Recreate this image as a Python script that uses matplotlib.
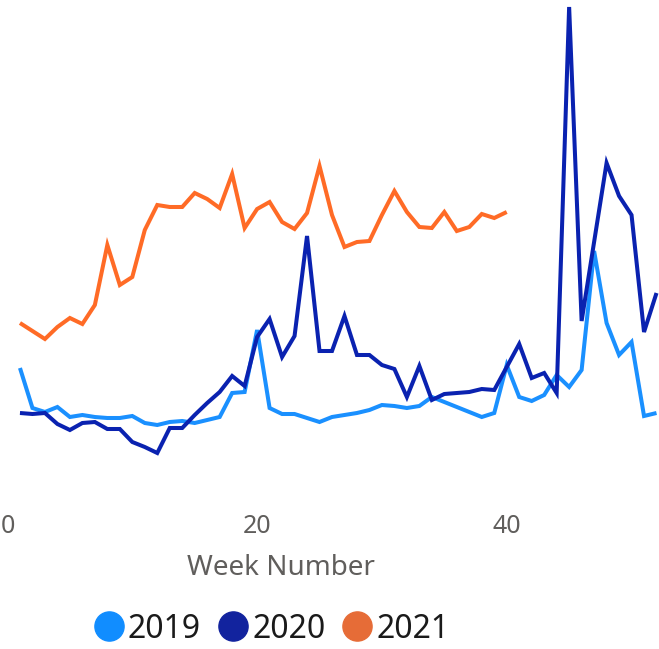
import matplotlib
matplotlib.use("Agg")
import matplotlib.pyplot as plt
from matplotlib.lines import Line2D

plt.rcParams["font.family"] = ["Noto Sans", "DejaVu Sans"]

# Weekly values per year
weeks_2019 = list(range(1, 53))
values_2019 = [92, 52, 48, 53, 43, 45, 43, 42, 42, 44,
               37, 35, 38, 39, 37, 40, 43, 67, 68, 130,
               52, 46, 46, 42, 38, 43, 45, 47, 50, 55,
               54, 52, 54, 63, 58, 53, 48, 43, 47, 95,
               63, 59, 65, 85, 73, 90, 209, 137, 105, 118,
               44, 47]

weeks_2020 = list(range(1, 53))
values_2020 = [47, 46, 47, 36, 30, 37, 38, 31, 31, 18,
               13, 7, 32, 32, 45, 57, 68, 84, 74, 123,
               141, 103, 124, 224, 109, 109, 144, 105, 105, 95,
               91, 63, 94, 60, 66, 67, 68, 71, 70, 93,
               116, 82, 87, 67, 453, 139, 218, 297, 264, 245,
               128, 167]

weeks_2021 = list(range(1, 41))
values_2021 = [137, 129, 121, 133, 142, 136, 155, 215, 175, 183,
               230, 255, 253, 253, 267, 261, 252, 286, 232, 251,
               258, 238, 231, 247, 294, 245, 213, 218, 219, 245,
               269, 248, 233, 232, 248, 229, 233, 246, 242, 248]

years = ["2019", "2020", "2021"]
line_colors = ["#1A90FF", "#0A22B0", "#FF6B26"]
legend_colors = ["#118DFF", "#12239E", "#E66C37"]
x_ticks = [0, 20, 40]
x_label = "Week Number"

W, H = 659, 649
fig = plt.figure(figsize=(W / 100, H / 100), dpi=100)
ax_bottom_px = 495
ax = fig.add_axes([0, 1 - ax_bottom_px / H, 1, ax_bottom_px / H])

series = [(weeks_2019, values_2019), (weeks_2020, values_2020), (weeks_2021, values_2021)]
for (wk, vals), col in zip(series, line_colors):
    ax.plot(wk, vals, color=col, linewidth=2.9, solid_joinstyle="miter",
            solid_capstyle="butt")

ax.set_xlim(-0.6, 52.2)
ax.set_ylim(460 - ax_bottom_px, 460)
for s in ax.spines.values():
    s.set_visible(False)
ax.set_yticks([])
ax.set_xticks(x_ticks)
ax.set_xticklabels([str(t) for t in x_ticks])
ax.tick_params(axis="x", length=0, pad=14, labelsize=18, labelcolor="#605E5C")
for lbl in ax.get_xticklabels():
    lbl.set_fontweight("light")

fig.text(281 / W, 1 - 568 / H, x_label, ha="center", va="center",
         fontsize=20, color="#605E5C", fontweight="light")

handles = [Line2D([], [], marker="o", linestyle="none", markersize=21,
                  markerfacecolor=c, markeredgecolor=c) for c in legend_colors]
fig.legend(handles, years, loc="center", bbox_to_anchor=(272 / W, 1 - 629 / H),
           ncol=3, frameon=False, fontsize=23, handlelength=0.9,
           handletextpad=0.15, columnspacing=0.55, borderpad=0,
           labelcolor="#1a1a1a")

fig.savefig("out.png", dpi=100)
